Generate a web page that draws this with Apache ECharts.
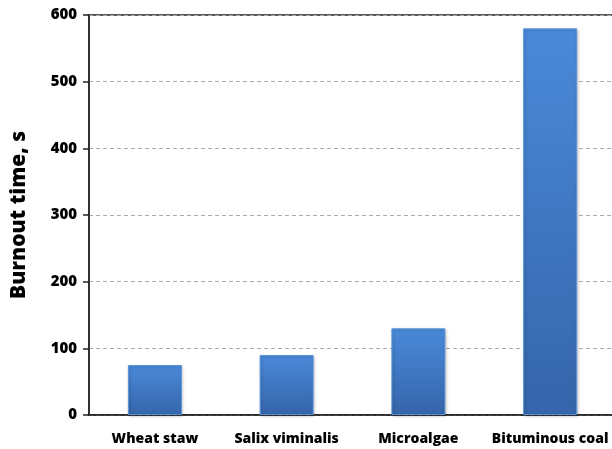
<!DOCTYPE html>
<html><head><meta charset="utf-8">
<script src="https://cdn.jsdelivr.net/npm/echarts@6/dist/echarts.min.js"></script>
<style>html,body{margin:0;padding:0;background:#fff}#c{width:612px;height:449px}</style>
</head><body><div id="c"></div>
<script>
const categories = ['Wheat staw', 'Salix viminalis', 'Microalgae', 'Bituminous coal'];
const burnoutTime = [75, 90, 130, 580];
const yTicks = { min: 0, max: 600, interval: 100 };
const yTitle = 'Burnout time, s';

const chart = echarts.init(document.getElementById('c'));
const font = 'Open Sans';
chart.setOption({
  animation: false,
  grid: { left: 89, width: 527, top: 15, height: 400, show: true, borderColor: '#222', borderWidth: 1.5,
          containLabel: false, outerBoundsMode: 'none' },
  xAxis: {
    type: 'category', data: categories,
    axisLine: { lineStyle: { color: '#222', width: 1.5 } },
    axisTick: { show: false },
    axisLabel: { color: '#000', fontFamily: font, fontWeight: 800, fontSize: 14, margin: 17, interval: 0 }
  },
  yAxis: {
    type: 'value', min: yTicks.min, max: yTicks.max, interval: yTicks.interval,
    name: yTitle, nameLocation: 'middle', nameGap: 59,
    nameTextStyle: { color: '#000', fontFamily: font, fontWeight: 800, fontSize: 21 },
    axisLine: { show: true, lineStyle: { color: '#222', width: 1.5 } },
    axisTick: { show: true, length: 6, lineStyle: { color: '#222', width: 1.5 } },
    axisLabel: { color: '#000', fontFamily: font, fontWeight: 800, fontSize: 15, margin: 12 },
    splitLine: { lineStyle: { color: '#aaa', type: [4, 3], width: 1 } }
  },
  series: [{
    type: 'bar', data: burnoutTime, barWidth: 54,
    itemStyle: {
      color: new echarts.graphic.LinearGradient(0, 0, 0, 1, [
        { offset: 0, color: '#4a8ad9' },
        { offset: 1, color: '#3565aa' }
      ]),
      borderColor: '#5a94d8', borderWidth: 1,
      shadowColor: 'rgba(0,0,0,0.25)', shadowBlur: 3, shadowOffsetX: 1, shadowOffsetY: 1
    }
  }]
});
</script></body></html>
